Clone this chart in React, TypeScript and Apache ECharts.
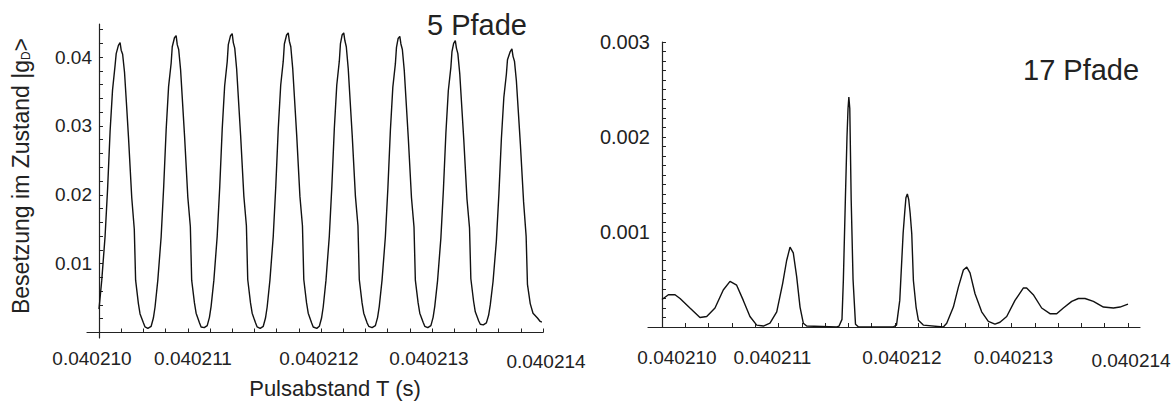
import React, { useEffect, useRef } from "react";
import * as echarts from "echarts";

// Pulse spacing T is plotted in units of 1e-6 s after T0.
const T0 = 0.04021;
const STEP = 1e-6;

// Occupation of |g_D> for 5 interfering paths: [T offset, occupation]
const fivePaths: [number, number][] = [
  [0.0, 0.0034], [0.025, 0.0076], [0.055, 0.014], [0.078, 0.021], [0.1, 0.0292], [0.122, 0.0352],
  [0.145, 0.0388], [0.155, 0.0405], [0.175, 0.0417], [0.19, 0.0421], [0.2, 0.041], [0.213, 0.0404],
  [0.23, 0.0378], [0.25, 0.0326], [0.266, 0.0283], [0.295, 0.0196], [0.318, 0.015], [0.33, 0.0076],
  [0.355, 0.0042], [0.37, 0.0027], [0.4, 0.0014], [0.415, 0.0008], [0.44, 0.0006],
  [0.47, 0.0009], [0.49, 0.0021], [0.505, 0.0037], [0.53, 0.0076], [0.56, 0.0139], [0.583, 0.0212],
  [0.605, 0.0294], [0.627, 0.0357], [0.65, 0.0391], [0.66, 0.0415], [0.68, 0.0428], [0.695, 0.0431],
  [0.705, 0.0418], [0.718, 0.0411], [0.735, 0.0382], [0.755, 0.0328], [0.771, 0.0285], [0.8, 0.0197],
  [0.823, 0.0154], [0.835, 0.0076], [0.86, 0.0043], [0.875, 0.0028], [0.905, 0.0014], [0.92, 0.0008],
  [0.948, 0.0007],
  [0.975, 0.001], [0.995, 0.0022], [1.01, 0.0038], [1.035, 0.0076], [1.065, 0.014], [1.088, 0.0212],
  [1.11, 0.0295], [1.132, 0.0358], [1.155, 0.0393], [1.165, 0.0418], [1.185, 0.0431], [1.2, 0.0434],
  [1.21, 0.0421], [1.223, 0.0413], [1.24, 0.0383], [1.26, 0.0329], [1.276, 0.0286], [1.305, 0.0198],
  [1.328, 0.0155], [1.34, 0.0077], [1.365, 0.0043], [1.38, 0.0028], [1.41, 0.0014], [1.425, 0.0008],
  [1.452, 0.0006],
  [1.48, 0.0009], [1.5, 0.0021], [1.515, 0.0037], [1.54, 0.0076], [1.57, 0.014], [1.593, 0.0213],
  [1.615, 0.0296], [1.637, 0.0359], [1.66, 0.0394], [1.67, 0.0419], [1.69, 0.0432], [1.705, 0.0435],
  [1.715, 0.0423], [1.728, 0.0415], [1.745, 0.0384], [1.765, 0.033], [1.781, 0.0287], [1.81, 0.0198],
  [1.833, 0.0155], [1.845, 0.0077], [1.87, 0.0043], [1.885, 0.0028], [1.915, 0.0014], [1.93, 0.0008],
  [1.962, 0.0006],
  [1.985, 0.0009], [2.005, 0.0021], [2.02, 0.0037], [2.045, 0.0076], [2.075, 0.014], [2.098, 0.0213],
  [2.12, 0.0296], [2.142, 0.0359], [2.165, 0.0394], [2.175, 0.0419], [2.19, 0.0432], [2.205, 0.0435],
  [2.215, 0.0424], [2.228, 0.0415], [2.245, 0.0384], [2.265, 0.033], [2.281, 0.0287], [2.31, 0.0198],
  [2.333, 0.0155], [2.345, 0.0077], [2.37, 0.0043], [2.385, 0.0028], [2.415, 0.0014], [2.43, 0.0009],
  [2.46, 0.0007],
  [2.49, 0.001], [2.51, 0.0022], [2.525, 0.0038], [2.55, 0.0076], [2.58, 0.0139], [2.603, 0.0211],
  [2.625, 0.0293], [2.647, 0.0356], [2.67, 0.039], [2.68, 0.0414], [2.695, 0.0427], [2.71, 0.043],
  [2.72, 0.0419], [2.733, 0.0411], [2.75, 0.0381], [2.77, 0.0327], [2.786, 0.0284], [2.815, 0.0196],
  [2.838, 0.0153], [2.85, 0.0076], [2.875, 0.0043], [2.89, 0.0028], [2.92, 0.0015], [2.935, 0.0009],
  [2.962, 0.0007],
  [2.99, 0.001], [3.01, 0.0022], [3.025, 0.0038], [3.05, 0.0075], [3.08, 0.0137], [3.103, 0.0208],
  [3.125, 0.0289], [3.147, 0.0351], [3.17, 0.0385], [3.18, 0.0408], [3.195, 0.042], [3.21, 0.0424],
  [3.22, 0.0413], [3.233, 0.0405], [3.25, 0.0376], [3.27, 0.0323], [3.286, 0.0281], [3.315, 0.0194],
  [3.338, 0.0152], [3.35, 0.0078], [3.375, 0.0045], [3.39, 0.003], [3.42, 0.0017], [3.435, 0.0012],
  [3.462, 0.0011],
  [3.49, 0.0014], [3.51, 0.0025], [3.525, 0.004], [3.55, 0.0074], [3.58, 0.0133], [3.603, 0.0202],
  [3.625, 0.0281], [3.647, 0.0341], [3.67, 0.0375], [3.68, 0.0396], [3.705, 0.0408], [3.72, 0.0412],
  [3.73, 0.0401], [3.743, 0.0394], [3.76, 0.0366], [3.78, 0.0315], [3.796, 0.0274], [3.825, 0.019],
  [3.848, 0.014], [3.86, 0.007], [3.885, 0.0042], [3.91, 0.0028], [3.95, 0.0021], [3.975, 0.0016],
  [3.99, 0.0015],
];

// Occupation of |g_D> for 17 interfering paths: [T offset, occupation]
const seventeenPaths: [number, number][] = [
  [0.0, 0.00029], [0.055, 0.00034], [0.112, 0.00034], [0.155, 0.0003], [0.24, 0.0002], [0.326, 0.0001],
  [0.384, 0.00011], [0.455, 0.0002], [0.526, 0.00039], [0.584, 0.00048], [0.641, 0.00044],
  [0.698, 0.00028], [0.755, 0.00011], [0.813, 0.00002], [0.87, 0.00001], [0.927, 0.00004],
  [0.985, 0.00016], [1.036, 0.00046], [1.07, 0.0007], [1.099, 0.00084], [1.127, 0.00078],
  [1.156, 0.00053], [1.185, 0.00021], [1.213, 0.00004], [1.242, 0.00001], [1.5, 0.0],
  [1.52, 0.00001], [1.545, 0.00008], [1.557, 0.0005], [1.574, 0.00134], [1.588, 0.002],
  [1.597, 0.0023], [1.604, 0.00242], [1.612, 0.0023], [1.624, 0.00134], [1.64, 0.0005],
  [1.661, 0.00003], [1.687, 0.0], [1.983, 0.0], [2.013, 0.00002], [2.041, 0.00028], [2.07, 0.00099],
  [2.085, 0.00123], [2.094, 0.00136], [2.106, 0.0014], [2.118, 0.00134], [2.13, 0.0012],
  [2.144, 0.00098], [2.158, 0.00049], [2.181, 0.00021], [2.201, 0.00007], [2.243, 0.00002],
  [2.415, 0.0], [2.444, 0.00004], [2.501, 0.00021], [2.544, 0.00042], [2.587, 0.0006],
  [2.616, 0.00063], [2.644, 0.00057], [2.687, 0.00035], [2.744, 0.00016], [2.801, 0.00006],
  [2.858, 0.00003], [2.901, 0.00005], [2.959, 0.00011], [3.03, 0.00028], [3.101, 0.00041],
  [3.13, 0.00041], [3.187, 0.00034], [3.259, 0.0002], [3.33, 0.00014], [3.388, 0.00014],
  [3.445, 0.0002], [3.517, 0.00027], [3.574, 0.0003], [3.631, 0.0003], [3.703, 0.00027],
  [3.789, 0.00021], [3.875, 0.0002], [3.931, 0.00021], [4.0, 0.00024],
];

// Tick positions
const xLabelTicks = [0, 1, 2, 3, 4];
const xAllTicks = [0, 0.2, 0.4, 0.6, 0.8, 1, 1.2, 1.4, 1.6, 1.8, 2, 2.2, 2.4, 2.6, 2.8, 3, 3.2, 3.4, 3.6, 3.8, 4];
const leftYLabels = [0.01, 0.02, 0.03, 0.04];
const leftYTicks = [
  0.002, 0.004, 0.006, 0.008, 0.01, 0.012, 0.014, 0.016, 0.018, 0.02, 0.022,
  0.024, 0.026, 0.028, 0.03, 0.032, 0.034, 0.036, 0.038, 0.04, 0.042, 0.044,
];
const rightYLabels = [0.001, 0.002, 0.003];
const rightYTicks = [
  0.0001, 0.0002, 0.0003, 0.0004, 0.0005, 0.0006, 0.0007, 0.0008, 0.0009, 0.001,
  0.0011, 0.0012, 0.0013, 0.0014, 0.0015, 0.0016, 0.0017, 0.0018, 0.0019, 0.002,
  0.0021, 0.0022, 0.0023, 0.0024, 0.0025, 0.0026, 0.0027, 0.0028, 0.0029, 0.003,
];

const panelTitles = ["5 Pfade", "17 Pfade"];
const yTitle = "Besetzung im Zustand |g{sub|D}>";
const xTitle = "Pulsabstand T (s)";

const FONT = "'Liberation Sans', Arial, sans-serif";
const INK = "#222";

const formatT = (v: number) => (T0 + v * STEP).toFixed(6);

// horizontal / vertical nudges of the T labels, in px
const leftLabelShift = [-7, -17, -2, -3, 3];
const leftLabelDrop = [0, 0, 0, 0, 3];
const rightLabelShift = [15, -6, 7, 2, 3];
const rightLabelDrop = [0, 0, 0, 0, 3];

function nudgeRich(shift: number[], drop: number[], size: number) {
  const rich: Record<string, any> = {};
  shift.forEach((s, i) => {
    rich["t" + i] = {
      fontSize: size,
      fontFamily: FONT,
      color: INK,
      padding: [drop[i], s < 0 ? -2 * s : 0, 0, s > 0 ? 2 * s : 0],
    };
  });
  return rich;
}

const tLabel = (v: number) => `{t${xLabelTicks.indexOf(Math.round(v))}|${formatT(v)}}`;

export default function App() {
  const ref = useRef<HTMLDivElement>(null);

  useEffect(() => {
    if (!ref.current) return;
    const chart = echarts.init(ref.current, null, { renderer: "svg" });

    const axisLine = { show: true, onZero: true, lineStyle: { color: INK, width: 1.2 } };
    const tick = (values: number[]) => ({
      show: true,
      inside: true,
      length: 4,
      customValues: values,
      lineStyle: { color: INK, width: 1 },
    });

    chart.setOption({
      animation: false,
      backgroundColor: "#fff",
      grid: [
        { left: 87, top: 24, width: 456, height: 314, outerBoundsMode: "none" },
        { left: 648, top: 42, width: 492, height: 285, outerBoundsMode: "none" },
      ],
      xAxis: [
        {
          type: "value",
          gridIndex: 0,
          min: -0.108,
          max: 4,
          axisLine,
          axisTick: tick(xAllTicks),
          splitLine: { show: false },
          axisLabel: {
            customValues: xLabelTicks,
            margin: 11,
            fontSize: 19,
            fontFamily: FONT,
            color: INK,
            formatter: tLabel,
            rich: nudgeRich(leftLabelShift, leftLabelDrop, 19),
          },
          name: xTitle,
          nameLocation: "middle",
          nameGap: 39,
          nameTextStyle: { fontSize: 22, fontFamily: FONT, color: INK, padding: [0, 0, 0, 40] },
        },
        {
          type: "value",
          gridIndex: 1,
          min: -0.12,
          max: 4.103,
          axisLine,
          axisTick: tick(xAllTicks),
          splitLine: { show: false },
          axisLabel: {
            customValues: xLabelTicks,
            margin: 21,
            fontSize: 19,
            fontFamily: FONT,
            color: INK,
            formatter: tLabel,
            rich: nudgeRich(rightLabelShift, rightLabelDrop, 19),
          },
        },
      ],
      yAxis: [
        {
          type: "value",
          gridIndex: 0,
          min: -0.0008,
          max: 0.0448,
          axisLine,
          axisTick: tick(leftYTicks),
          splitLine: { show: false },
          axisLabel: {
            customValues: leftYLabels,
            margin: -5,
            fontSize: 19,
            fontFamily: FONT,
            color: INK,
            formatter: (v: number) => v.toFixed(2),
          },
          name: yTitle,
          nameLocation: "middle",
          nameGap: 55,
          nameTextStyle: {
            fontSize: 23,
            fontFamily: FONT,
            color: INK,
            padding: [0, 0, 0, 10],
            rich: { sub: { fontSize: 12, fontFamily: FONT, color: INK, verticalAlign: "bottom" } },
          },
        },
        {
          type: "value",
          gridIndex: 1,
          min: 0,
          max: 0.003,
          axisLine,
          axisTick: tick(rightYTicks),
          splitLine: { show: false },
          axisLabel: {
            customValues: rightYLabels,
            margin: -2,
            fontSize: 20,
            fontFamily: FONT,
            color: INK,
            formatter: (v: number) => v.toFixed(3),
          },
        },
      ],
      series: [
        {
          type: "line",
          xAxisIndex: 0,
          yAxisIndex: 0,
          data: fivePaths,
          showSymbol: false,
          lineStyle: { color: "#111", width: 1.4 },
        },
        {
          type: "line",
          xAxisIndex: 1,
          yAxisIndex: 1,
          data: seventeenPaths,
          showSymbol: false,
          lineStyle: { color: "#111", width: 1.4 },
        },
      ],
      graphic: [
        {
          type: "text",
          left: 427,
          top: 10,
          style: { text: panelTitles[0], fontSize: 29, fontFamily: FONT, fill: INK },
        },
        {
          type: "text",
          left: 1023,
          top: 55,
          style: { text: panelTitles[1], fontSize: 29, fontFamily: FONT, fill: INK },
        },
      ],
    });

    return () => chart.dispose();
  }, []);

  return (
    <div
      ref={ref}
      style={{ position: "absolute", left: 0, top: 0, width: 1173, height: 404, background: "#fff" }}
    />
  );
}
